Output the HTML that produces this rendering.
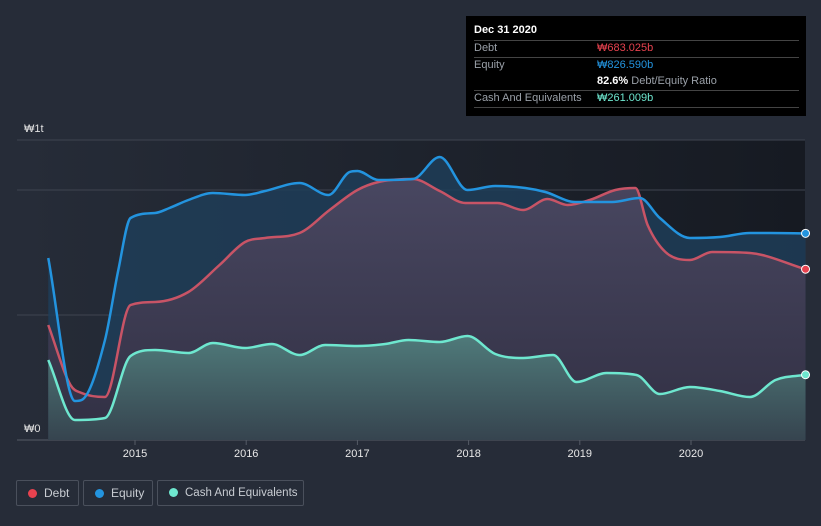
<!DOCTYPE html>
<html><head><meta charset="utf-8"><style>
body{margin:0;background:#262c38;font-family:"Liberation Sans",sans-serif;}
#wrap{position:relative;width:821px;height:526px;overflow:hidden;background:#262c38;}
.tt{position:absolute;left:466px;top:16px;width:340px;height:100px;background:#000;}
.tt div{position:absolute;font-size:11px;color:#9aa0a8;white-space:nowrap;}
.ln{position:absolute;left:8px;width:325px;height:1px;background:#444;}
.leg{position:absolute;top:480px;height:26px;border:1px solid #4a505c;border-radius:2px;color:#c8ccd2;font-size:12px;line-height:24px;box-sizing:border-box;white-space:nowrap;overflow:hidden;}
.leg span{display:inline-block;width:9px;height:9px;border-radius:50%;margin:0 7px 0 11px;vertical-align:-1px;}
</style></head><body>
<div id="wrap">
<svg id="chart" width="821" height="526" style="position:absolute;left:0;top:0">
<defs>
<linearGradient id="bg" x1="0" x2="1" y1="0" y2="0"><stop offset="0" stop-color="#262c38"/><stop offset="1" stop-color="#161a22"/></linearGradient>
<linearGradient id="cg" x1="0" x2="0" y1="0" y2="1"><stop offset="0" stop-color="#4f7a7a"/><stop offset="1" stop-color="#36444f"/></linearGradient>
<linearGradient id="dg" x1="0" x2="0" y1="0" y2="1"><stop offset="0" stop-color="#4c4862"/><stop offset="1" stop-color="#332f42"/></linearGradient>
</defs>
<rect x="17" y="140" width="788" height="300" fill="url(#bg)"/>
<g id="grid"></g>
<g id="marks"></g>
<text x="24" y="132" fill="#e0e0e0" font-size="11">₩1t</text>
<text x="24" y="432" fill="#e0e0e0" font-size="11">₩0</text>
<g id="xaxis"></g>
</svg>
<div class="tt">
<div style="left:8px;top:8px;color:#fff;font-weight:bold;font-size:11px">Dec 31 2020</div>
<div class="ln" style="top:24px"></div>
<div style="left:8px;top:26px">Debt</div>
<div style="left:131px;top:26px;color:#e8424f">₩683.025b</div>
<div class="ln" style="top:41px"></div>
<div style="left:8px;top:43px">Equity</div>
<div style="left:131px;top:43px;color:#2394df">₩826.590b</div>
<div style="left:131px;top:59px"><b style="color:#fff">82.6%</b> Debt/Equity Ratio</div>
<div class="ln" style="top:74px"></div>
<div style="left:8px;top:76px">Cash And Equivalents</div>
<div style="left:131px;top:76px;color:#6ee7cf">₩261.009b</div>
<div class="ln" style="top:91px"></div>
</div>
<div class="leg" style="left:16px;width:63px"><span style="background:#e8424f"></span>Debt</div>
<div class="leg" style="left:83px;width:70px"><span style="background:#2394df"></span>Equity</div>
<div class="leg" style="left:157px;width:147px;font-size:11.5px"><span style="background:#6ee7cf"></span>Cash And Equivalents</div>
</div>
<script>
const equityDates=[2014.22,2014.46,2014.52,2014.73,2014.85,2014.96,2015.18,2015.31,2015.48,2015.70,2015.99,2016.17,2016.48,2016.74,2016.93,2017.00,2017.19,2017.50,2017.74,2017.99,2018.24,2018.51,2018.69,2018.96,2019.29,2019.54,2019.72,2019.99,2020.26,2020.53,2020.71,2021.03];
const equityValues=[728,156,160,400,680,888,908,928,960,988,980,996,1028,980,1072,1076,1040,1044,1132,1000,1016,1008,992,952,952,968,888,808,812,828,828,826.59];
const debtDates=[2014.22,2014.42,2014.52,2014.73,2014.96,2015.18,2015.48,2015.76,2015.99,2016.17,2016.48,2016.75,2017.00,2017.19,2017.50,2017.74,2017.97,2018.26,2018.49,2018.71,2018.89,2019.09,2019.32,2019.50,2019.61,2019.77,2019.99,2020.19,2020.53,2021.03];
const debtValues=[460,220,188,172,540,552,592,700,792,808,828,920,1000,1032,1044,996,948,948,920,964,940,960,1000,1008,860,752,720,752,748,683.025];
const cashDates=[2014.22,2014.46,2014.73,2014.96,2015.18,2015.48,2015.70,2015.99,2016.23,2016.48,2016.71,2017.00,2017.25,2017.46,2017.74,2017.99,2018.24,2018.49,2018.76,2018.97,2019.24,2019.51,2019.72,2019.99,2020.26,2020.53,2020.76,2021.03];
const cashValues=[320,80,88,336,360,348,388,368,384,340,380,376,384,400,392,416,344,328,340,232,268,260,184,212,196,172,240,261.009];
const xTicks=[2015,2016,2017,2018,2019,2020];
const gridValues=[0,500,1000,1200];

const NS='http://www.w3.org/2000/svg';
const X=d=>135+(d-2015)*111.2;
const Y=v=>440-v*0.25;
function mk(tag,attrs,parent){const e=document.createElementNS(NS,tag);for(const k in attrs)e.setAttribute(k,attrs[k]);parent.appendChild(e);return e;}
function path(ds,vs){
  const p=ds.map((d,i)=>[X(d),Y(vs[i])]);
  const n=p.length,dl=[],m=[];
  for(let i=0;i<n-1;i++)dl.push((p[i+1][1]-p[i][1])/(p[i+1][0]-p[i][0]));
  m[0]=dl[0];m[n-1]=dl[n-2];
  for(let i=1;i<n-1;i++){m[i]=(dl[i-1]*dl[i]<=0)?0:(dl[i-1]+dl[i])/2;}
  for(let i=0;i<n-1;i++){
    if(dl[i]===0){m[i]=0;m[i+1]=0;continue;}
    const a=m[i]/dl[i],b=m[i+1]/dl[i],s=a*a+b*b;
    if(s>9){const t=3/Math.sqrt(s);m[i]=t*a*dl[i];m[i+1]=t*b*dl[i];}
  }
  let s='M'+p[0][0]+','+p[0][1];
  for(let i=0;i<n-1;i++){
    const h=(p[i+1][0]-p[i][0])/3;
    s+=' C'+(p[i][0]+h)+','+(p[i][1]+m[i]*h)+' '+(p[i+1][0]-h)+','+(p[i+1][1]-m[i+1]*h)+' '+p[i+1][0]+','+p[i+1][1];
  }
  return {line:s,area:s+' L'+p[n-1][0]+',440 L'+p[0][0]+',440 Z',last:p[n-1]};
}
const grid=document.getElementById('grid');
gridValues.forEach(v=>{const l=mk('line',{x1:17,x2:805,y1:Y(v),y2:Y(v),stroke:v===0?'#555b66':'#3f4450','stroke-width':1},grid);

});
const m=document.getElementById('marks');
const E=path(equityDates,equityValues),D=path(debtDates,debtValues),C=path(cashDates,cashValues);
let a=mk('path',{d:E.area,fill:'#1f3d58','fill-opacity':0.85},m);


a=mk('path',{d:D.area,fill:'url(#dg)','fill-opacity':0.92},m);


a=mk('path',{d:C.area,fill:'url(#cg)'},m);


let l=mk('path',{d:D.line,fill:'none',stroke:'#c85466','stroke-width':2.5},m);


l=mk('path',{d:E.line,fill:'none',stroke:'#2394df','stroke-width':2.5},m);


l=mk('path',{d:C.line,fill:'none',stroke:'#6ee7cf','stroke-width':2.5},m);


[[E.last,'#2394df','equity-end-dot'],[D.last,'#e8424f','debt-end-dot'],[C.last,'#6ee7cf','cash-end-dot']].forEach(q=>{
  const c=mk('circle',{cx:q[0][0],cy:q[0][1],r:4,fill:q[1],stroke:'#fff','stroke-width':1},m);
  
  
});
const xa=document.getElementById('xaxis');
xTicks.forEach(t=>{
  const tk=mk('line',{x1:X(t),x2:X(t),y1:440,y2:445,stroke:'#555b66'},xa);
  
  
  const tx=mk('text',{x:X(t),y:457,fill:'#e8e8e8','font-size':11,'text-anchor':'middle'},xa);
  tx.textContent=t;
  
  
});
</script>
</body></html>
